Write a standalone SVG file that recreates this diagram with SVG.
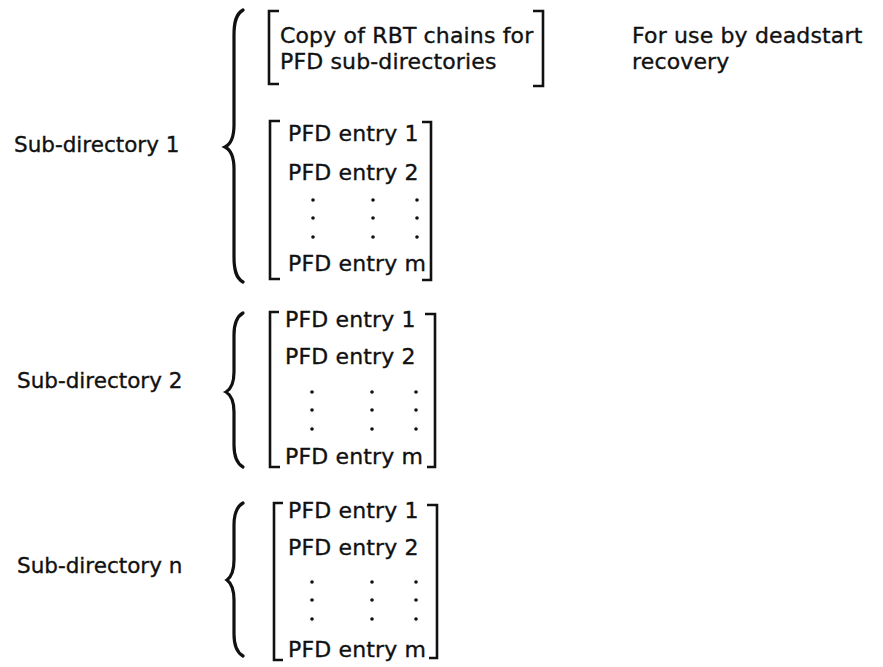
<svg xmlns="http://www.w3.org/2000/svg" width="883" height="667" viewBox="0 0 883 667">
<style>
text{font-family:"DejaVu Sans","Liberation Sans",sans-serif;font-size:22px;letter-spacing:0.15px;fill:#111;stroke:#111;stroke-width:0.35}
text.lab{font-size:21.5px;letter-spacing:0}
.br{fill:none;stroke:#111;stroke-width:2.6;stroke-linecap:butt;stroke-linejoin:miter}
.bc{fill:none;stroke:#111;stroke-width:3.2;stroke-linecap:round}
.d{fill:#111}
</style>
<rect width="883" height="667" fill="#fff"/>
<defs>
<g id="dots">
<circle class="d" cx="0" cy="0" r="1.8"/><circle class="d" cx="0" cy="18" r="1.8"/><circle class="d" cx="0" cy="37" r="1.8"/>
<circle class="d" cx="60" cy="0" r="1.8"/><circle class="d" cx="60" cy="18" r="1.8"/><circle class="d" cx="60" cy="37" r="1.8"/>
<circle class="d" cx="104" cy="0" r="1.8"/><circle class="d" cx="104" cy="18" r="1.8"/><circle class="d" cx="104" cy="37" r="1.8"/>
</g>
</defs>
<g id="connectors">
<path class="bc" d="M243,10 C236,14 234,22 234,35 L234,125 C234,138 231,144 225,147 C231,150 234,156 234,169 L234,257 C234,270 236,278 243,282"/>
<path class="bc" d="M243,313 C236,317 234,324 234,335 L234,372 C234,384 231,389 226,392 C231,395 234,400 234,412 L234,445 C234,456 236,463 243,467"/>
<path class="bc" d="M243,503 C236,507 234,514 234,525 L234,560 C234,572 231,577 227,580 C231,583 234,588 234,600 L234,634 C234,645 236,652 243,656"/>
</g>
<g id="label-sub1"><text class="lab" x="14" y="152">Sub-directory 1</text></g>
<g id="label-sub2"><text class="lab" x="17" y="388">Sub-directory 2</text></g>
<g id="label-subn"><text class="lab" x="17" y="573">Sub-directory n</text></g>
<g id="rbt-copy">
<path class="br" d="M279,11 H269 V84 H279"/>
<path class="br" d="M533,11 H543 V86 H533"/>
<text x="280" y="43">Copy of RBT chains for</text>
<text x="280" y="69">PFD sub-directories</text>
</g>
<g id="note"><text x="632" y="43">For use by deadstart</text><text x="632" y="69">recovery</text></g>
<g id="sub1-entries">
<path class="br" d="M280,121 H270 V279 H280"/>
<path class="br" d="M422,122 H431 V280 H422"/>
<text x="288" y="141">PFD entry 1</text>
<text x="288" y="180">PFD entry 2</text>
<use href="#dots" x="313" y="200"/>
<text x="288" y="271">PFD entry m</text>
</g>
<g id="sub2-entries">
<path class="br" d="M279,312 H270 V467 H280"/>
<path class="br" d="M425,314 H435 V467 H427"/>
<text x="285" y="327">PFD entry 1</text>
<text x="285" y="364">PFD entry 2</text>
<use href="#dots" x="312" y="392"/>
<text x="285" y="464">PFD entry m</text>
</g>
<g id="subn-entries">
<path class="br" d="M283,503 H274 V660 H283"/>
<path class="br" d="M427,505 H437 V658 H429"/>
<text x="288" y="518">PFD entry 1</text>
<text x="288" y="555">PFD entry 2</text>
<use href="#dots" x="312" y="582"/>
<text x="288" y="657">PFD entry m</text>
</g>
</svg>
